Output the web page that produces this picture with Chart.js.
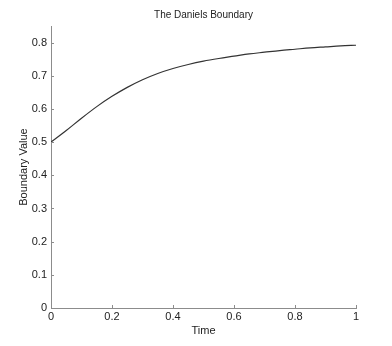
<!DOCTYPE html>
<html>
<head>
<meta charset="utf-8">
<script src="https://cdn.jsdelivr.net/npm/chart.js@4"></script>
<style>
  html, body { margin: 0; padding: 0; background: #fff; }
  #wrap { width: 392px; height: 346px; }
</style>
</head>
<body>
<div id="wrap"><canvas id="danielsChart" width="392" height="346"></canvas></div>
<script>
// values
const timeVals = [0, 0.05, 0.1, 0.15, 0.2, 0.25, 0.3, 0.35, 0.4, 0.45, 0.5,
                  0.55, 0.6, 0.65, 0.7, 0.75, 0.8, 0.85, 0.9, 0.95, 1];
const boundaryVals = [0.500, 0.535, 0.572, 0.607, 0.638, 0.665, 0.688, 0.707, 0.722, 0.734, 0.744,
                      0.752, 0.759, 0.766, 0.771, 0.776, 0.780, 0.784, 0.787, 0.790, 0.792];
const xTicks = [0, 0.2, 0.4, 0.6, 0.8, 1];
const yTicks = [0, 0.1, 0.2, 0.3, 0.4, 0.5, 0.6, 0.7, 0.8];

const axisGray = '#8c8c8c';
const fontFam = '"Liberation Sans", Arial, sans-serif';

// matlab style ticks pointing into the plot
const innerTicks = {
  id: 'innerTicks',
  afterDraw(chart) {
    const ctx = chart.ctx;
    const xs = chart.scales.x, ys = chart.scales.y;
    ctx.save();
    ctx.strokeStyle = axisGray;
    ctx.lineWidth = 1;
    ctx.beginPath();
    xTicks.forEach(v => {
      let px = Math.round(xs.getPixelForValue(v)) + 0.5;
      ctx.moveTo(px, xs.top);
      ctx.lineTo(px, xs.top - 3);
    });
    yTicks.forEach(v => {
      let py = Math.round(ys.getPixelForValue(v)) + 0.5;
      ctx.moveTo(ys.right, py);
      ctx.lineTo(ys.right + 3, py);
    });
    ctx.stroke();
    ctx.restore();
  }
};

new Chart(document.getElementById('danielsChart'), {
  type: 'line',
  data: {
    datasets: [{
      data: timeVals.map((t, i) => ({x: t, y: boundaryVals[i]})),
      borderColor: '#333',
      borderWidth: 1.2,
      pointRadius: 0,
      cubicInterpolationMode: 'monotone',
      fill: false
    }]
  },
  options: {
    responsive: false,
    animation: false,
    layout: { padding: { left: 0, right: 36, top: 0, bottom: 0 } },
    plugins: {
      legend: { display: false },
      tooltip: { enabled: false },
      title: {
        display: true,
        fullSize: false,
        text: 'The Daniels Boundary',
        color: '#222',
        font: { family: fontFam, size: 10, weight: 'normal' },
        padding: { top: 9, bottom: 5 }
      }
    },
    scales: {
      x: {
        type: 'linear',
        min: 0,
        max: 1,
        afterBuildTicks: s => { s.ticks = xTicks.map(v => ({value: v})); },
        afterFit: s => { s.height = 38; },
        grid: { display: true, drawOnChartArea: false, drawTicks: false },
        border: { display: true, color: axisGray, width: 1 },
        ticks: {
          color: '#222',
          padding: 2,
          maxRotation: 0,
          font: { family: fontFam, size: 11 },
          callback: v => String(v)
        },
        title: {
          display: true,
          text: 'Time',
          color: '#222',
          font: { family: fontFam, size: 11 },
          padding: { top: 0, bottom: 8 }
        }
      },
      y: {
        type: 'linear',
        min: 0,
        max: 0.85,
        afterBuildTicks: s => { s.ticks = yTicks.map(v => ({value: v})); },
        afterFit: s => { s.width = 51; },
        grid: { display: true, drawOnChartArea: false, drawTicks: false },
        border: { display: true, color: axisGray, width: 1 },
        ticks: {
          color: '#222',
          padding: 4,
          font: { family: fontFam, size: 11 },
          callback: v => String(Math.round(v * 10) / 10)
        },
        title: {
          display: true,
          text: 'Boundary Value',
          color: '#222',
          font: { family: fontFam, size: 11 },
          padding: { top: 17, bottom: 0 }
        }
      }
    }
  },
  plugins: [innerTicks]
});
</script>
</body>
</html>
